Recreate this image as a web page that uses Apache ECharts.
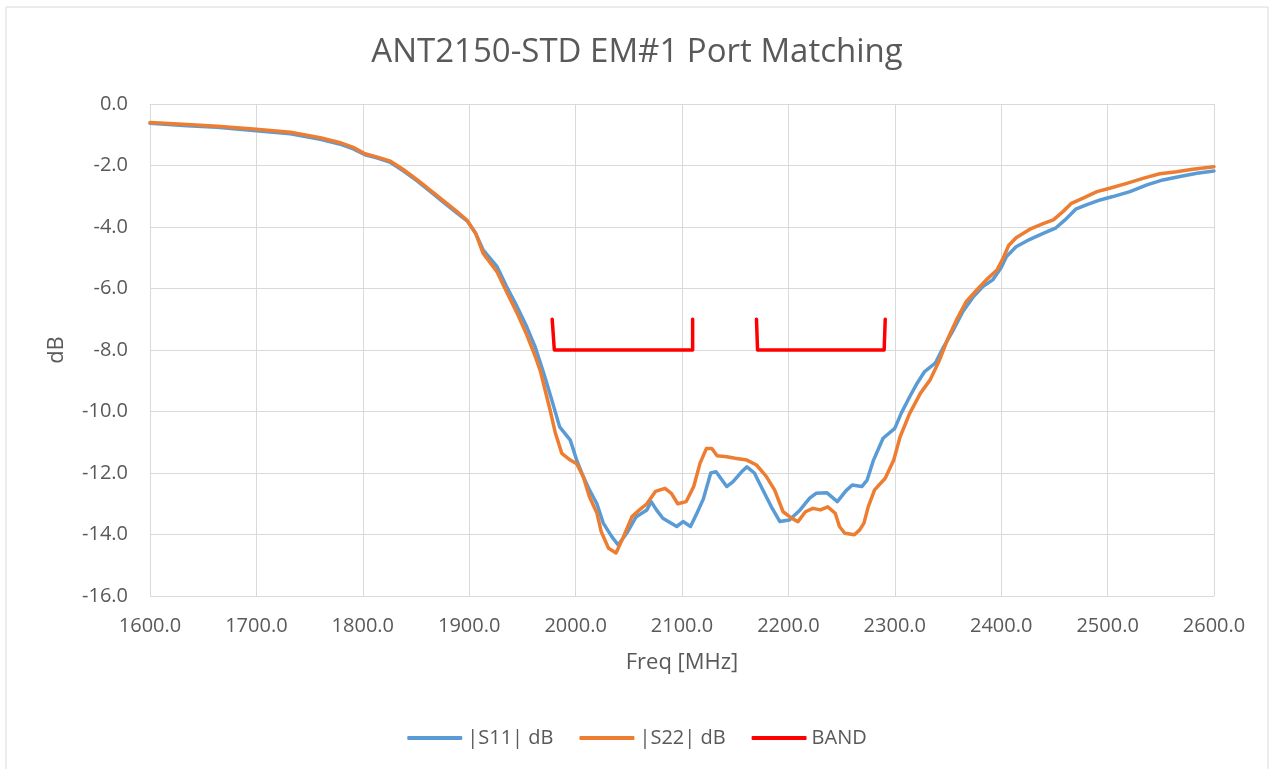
<!DOCTYPE html>
<html>
<head>
<meta charset="utf-8">
<script src="https://cdn.jsdelivr.net/npm/echarts@6/dist/echarts.min.js"></script>
<style>
html,body{margin:0;padding:0;background:#fff;}
#chart{width:1274px;height:769px;}
</style>
</head>
<body>
<div id="chart"></div>
<script>
// ---- data ----
const title = "ANT2150-STD EM#1 Port Matching";
const xTicks = [1600, 1700, 1800, 1900, 2000, 2100, 2200, 2300, 2400, 2500, 2600];
const yTicks = [0, -2, -4, -6, -8, -10, -12, -14, -16];

const s11Freq = [1600,1635,1663,1697,1732,1760,1778,1791,1802,1813,1826,1838,1851,1863,1876,1888,1898,1906,1913,1926,1935,1945,1954,1962,1970,1977,1985,1995,2001,2007,2013,2020,2026,2034,2040,2048,2057,2067,2071,2076,2082,2095,2101,2108,2114,2120,2127,2132,2142,2148,2156,2161,2168,2176,2184,2192,2201,2211,2220,2226,2236,2246,2254,2260,2269,2274,2280,2289,2300,2306,2314,2321,2328,2338,2346,2355,2364,2374,2383,2392,2400,2405,2414,2427,2440,2451,2460,2470,2480,2493,2505,2521,2537,2552,2568,2584,2600];
const s11Db = [-0.63,-0.71,-0.76,-0.86,-0.97,-1.15,-1.3,-1.46,-1.65,-1.75,-1.9,-2.17,-2.5,-2.83,-3.2,-3.53,-3.8,-4.2,-4.74,-5.28,-5.93,-6.59,-7.24,-7.9,-8.75,-9.55,-10.5,-10.93,-11.58,-12.1,-12.55,-13.0,-13.63,-14.07,-14.34,-13.96,-13.42,-13.2,-12.93,-13.2,-13.47,-13.74,-13.58,-13.74,-13.31,-12.85,-12.0,-11.96,-12.44,-12.28,-11.96,-11.8,-12.0,-12.55,-13.1,-13.58,-13.53,-13.2,-12.82,-12.66,-12.64,-12.93,-12.58,-12.39,-12.44,-12.23,-11.58,-10.87,-10.55,-10.06,-9.52,-9.08,-8.7,-8.43,-7.89,-7.35,-6.75,-6.26,-5.93,-5.72,-5.32,-4.96,-4.64,-4.4,-4.2,-4.04,-3.77,-3.42,-3.28,-3.12,-3.01,-2.85,-2.63,-2.47,-2.36,-2.25,-2.18];

const s22Freq = [1600,1635,1663,1697,1732,1760,1778,1791,1802,1813,1826,1838,1851,1863,1876,1888,1898,1906,1913,1926,1935,1945,1954,1962,1967,1976,1981,1987,1995,2001,2007,2013,2020,2024,2031,2038,2045,2053,2060,2067,2075,2084,2090,2096,2104,2111,2117,2123,2128,2133,2142,2150,2161,2170,2179,2187,2195,2203,2209,2216,2223,2230,2237,2244,2248,2253,2262,2267,2271,2275,2281,2291,2299,2305,2314,2324,2333,2342,2350,2358,2367,2377,2386,2396,2402,2407,2414,2427,2440,2449,2458,2466,2477,2490,2502,2518,2534,2549,2565,2580,2600];
const s22Db = [-0.6,-0.67,-0.72,-0.81,-0.92,-1.1,-1.25,-1.41,-1.62,-1.72,-1.86,-2.13,-2.46,-2.79,-3.15,-3.48,-3.78,-4.2,-4.85,-5.45,-6.1,-6.8,-7.5,-8.2,-8.7,-9.95,-10.7,-11.36,-11.58,-11.7,-12.1,-12.77,-13.3,-13.9,-14.45,-14.6,-14.07,-13.42,-13.2,-13.0,-12.6,-12.5,-12.66,-13.0,-12.93,-12.44,-11.68,-11.2,-11.2,-11.44,-11.47,-11.52,-11.58,-11.74,-12.1,-12.55,-13.26,-13.47,-13.58,-13.26,-13.15,-13.2,-13.1,-13.31,-13.74,-13.96,-14.01,-13.85,-13.63,-13.1,-12.55,-12.17,-11.58,-10.82,-10.06,-9.41,-8.98,-8.33,-7.62,-7.02,-6.43,-6.05,-5.72,-5.4,-5.0,-4.6,-4.35,-4.07,-3.88,-3.77,-3.5,-3.23,-3.06,-2.85,-2.74,-2.58,-2.41,-2.27,-2.2,-2.12,-2.04];

// BAND markers: two brackets separated by a gap ('-' breaks the line)
const bandFreq = [1978,1980,2110,2110,2140,2170,2171,2290,2291];
const bandDb   = [-7,-8,-8,-7,'-',-7,-8,-8,-7];

const zip = (xs, ys) => xs.map((x, i) => [x, ys[i]]);

const FONT = "'Open Sans', 'Liberation Sans', sans-serif";
const TXT = '#595959';
const GRID = '#d9d9d9';

const chart = echarts.init(document.getElementById('chart'), null, {renderer: 'canvas'});
chart.setOption({
  backgroundColor: '#ffffff',
  animation: false,
  textStyle: {fontFamily: FONT},
  title: {
    text: title,
    left: 'center',
    top: 31,
    textStyle: {fontFamily: FONT, fontSize: 33, fontWeight: 'normal', color: TXT}
  },
  graphic: [{
    type: 'rect',
    shape: {x: 6, y: 7, width: 1262, height: 790},
    style: {fill: 'none', stroke: GRID, lineWidth: 1},
    silent: true, z: -10
  }],
  grid: {left: 150, right: 60, top: 104, bottom: 173, containLabel: false},
  legend: {
    bottom: 16,
    left: 'center',
    icon: 'roundRect',
    itemWidth: 55,
    itemHeight: 4,
    itemGap: 26,
    textStyle: {fontFamily: FONT, fontSize: 20, color: TXT},
    data: ['|S11| dB', '|S22| dB', 'BAND']
  },
  xAxis: {
    type: 'value',
    min: xTicks[0],
    max: xTicks[xTicks.length - 1],
    interval: 100,
    name: 'Freq [MHz]',
    nameLocation: 'middle',
    nameGap: 56,
    nameTextStyle: {fontFamily: FONT, fontSize: 22, color: TXT},
    axisLine: {show: true, lineStyle: {color: GRID, width: 1}},
    axisTick: {show: false},
    axisLabel: {fontFamily: FONT, fontSize: 20, color: TXT, margin: 20,
      formatter: v => v.toFixed(1)},
    splitLine: {show: true, lineStyle: {color: GRID, width: 1}}
  },
  yAxis: {
    type: 'value',
    min: yTicks[yTicks.length - 1],
    max: yTicks[0],
    interval: 2,
    name: 'dB',
    nameLocation: 'middle',
    nameGap: 82,
    nameRotate: 90,
    nameTextStyle: {fontFamily: FONT, fontSize: 22, color: TXT},
    axisLine: {show: false},
    axisTick: {show: false},
    axisLabel: {fontFamily: FONT, fontSize: 20, color: TXT, margin: 22,
      formatter: v => v.toFixed(1)},
    splitLine: {show: true, lineStyle: {color: GRID, width: 1}}
  },
  series: [
    {
      name: '|S11| dB', type: 'line', data: zip(s11Freq, s11Db),
      symbol: 'none', smooth: false,
      lineStyle: {color: '#5b9bd5', width: 3.5, join: 'round', cap: 'round'},
      itemStyle: {color: '#5b9bd5'}, z: 2
    },
    {
      name: '|S22| dB', type: 'line', data: zip(s22Freq, s22Db),
      symbol: 'none', smooth: false,
      lineStyle: {color: '#ed7d31', width: 3.5, join: 'round', cap: 'round'},
      itemStyle: {color: '#ed7d31'}, z: 3
    },
    {
      name: 'BAND', type: 'line', data: zip(bandFreq, bandDb),
      symbol: 'none', connectNulls: false,
      lineStyle: {color: '#ff0000', width: 3.5, join: 'round', cap: 'round'},
      itemStyle: {color: '#ff0000'}, z: 4
    }
  ]
});
</script>
</body>
</html>
